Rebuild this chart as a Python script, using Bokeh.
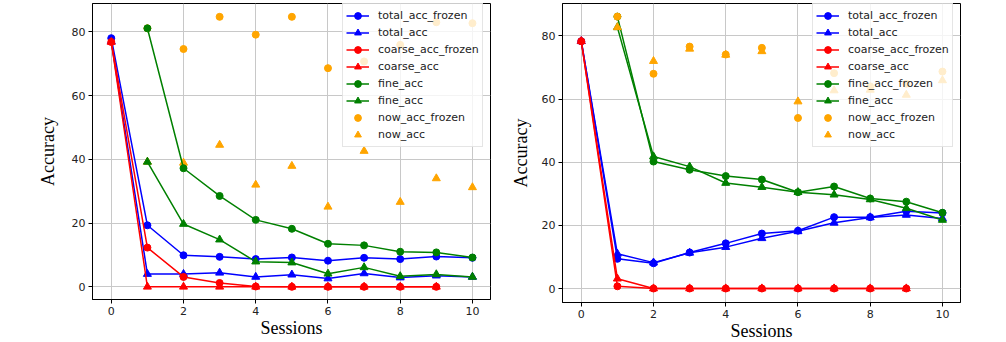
from bokeh.plotting import figure
from bokeh.models import Range1d, Legend, LegendItem, FixedTicker
from bokeh.layouts import row
from bokeh.embed import file_html
from bokeh.resources import INLINE

sessions = list(range(11))
s0_9 = list(range(10))
s1_10 = list(range(1, 11))

# ---- left chart ----
L_total_acc_frozen = [78.0, 19.3, 9.9, 9.4, 8.7, 9.2, 8.2, 9.1, 8.7, 9.5, 9.1]
L_total_acc = [77.0, 4.0, 4.0, 4.4, 3.1, 3.8, 2.6, 4.2, 2.9, 3.5, 3.1]
L_coarse_acc_frozen = [76.8, 12.3, 3.1, 1.2, 0.1, 0.0, 0.0, 0.0, 0.0, 0.0]
L_coarse_acc = [76.8, 0.0, 0.0, 0.0, 0.0, 0.0, 0.0, 0.0, 0.0, 0.0]
L_fine_acc_frozen = [81.1, 37.2, 28.5, 21.0, 18.2, 13.5, 13.0, 11.0, 10.8, 9.2]
L_fine_acc = [39.2, 19.7, 14.8, 7.9, 7.6, 4.1, 6.1, 3.3, 3.9, 3.1]
L_now_acc_frozen = [81.1, 74.6, 84.7, 79.1, 84.7, 68.6, 70.7, 75.9, 83.0, 82.7]
L_now_acc = [39.2, 38.9, 44.5, 32.0, 37.9, 25.1, 42.6, 26.6, 34.0, 31.2]

# ---- right chart ----
R_total_acc_frozen = [78.3, 9.4, 8.0, 11.4, 14.3, 17.4, 18.3, 22.6, 22.6, 24.5, 23.9]
R_total_acc = [78.3, 11.0, 8.2, 11.3, 13.1, 15.9, 18.1, 20.8, 22.5, 23.3, 22.2]
R_coarse_acc_frozen = [78.3, 0.7, 0.0, 0.0, 0.0, 0.0, 0.0, 0.0, 0.0, 0.0]
R_coarse_acc = [78.3, 3.1, 0.0, 0.0, 0.0, 0.0, 0.0, 0.0, 0.0, 0.0]
R_fine_acc_frozen = [86.1, 40.2, 37.6, 35.6, 34.5, 30.5, 32.3, 28.5, 27.5, 24.0]
R_fine_acc = [82.7, 41.8, 38.6, 33.4, 32.1, 30.5, 29.7, 28.2, 25.4, 21.7]
R_now_acc_frozen = [86.1, 68.0, 76.6, 74.1, 76.2, 54.0, 68.2, 64.0, 64.8, 68.7]
R_now_acc = [82.7, 72.0, 75.9, 74.0, 75.1, 59.2, 62.7, 62.9, 61.3, 65.9]

x_ticks = [0, 2, 4, 6, 8, 10]
y_ticks = [0, 20, 40, 60, 80]

BLUE, RED, GREEN, ORANGE = "#0000ff", "#ff0000", "#008000", "#ffa500"


def make_fig(yr, border_left, border_right, border_bottom, frame_h, label_standoff):
    p = figure(output_backend="svg", toolbar_location=None,
               frame_width=398, frame_height=frame_h,
               min_border_left=border_left, min_border_right=border_right,
               min_border_top=3, min_border_bottom=border_bottom,
               x_range=Range1d(-0.52, 10.5), y_range=Range1d(*yr))
    p.outline_line_color = "black"
    p.outline_line_width = 1
    p.xaxis.ticker = FixedTicker(ticks=x_ticks)
    p.yaxis.ticker = FixedTicker(ticks=y_ticks)
    for ax in (p.xaxis[0], p.yaxis[0]):
        ax.axis_line_color = "black"
        ax.major_tick_line_color = "black"
        ax.major_tick_out = 4
        ax.major_tick_in = 0
        ax.minor_tick_line_color = None
        ax.major_label_text_font = "DejaVu Sans"
        ax.major_label_text_font_size = "11px"
        ax.major_label_text_color = "#222222"
        ax.major_label_standoff = 3
        ax.axis_label_text_font = "Liberation Serif"
        ax.axis_label_text_font_size = "18px"
        ax.axis_label_text_font_style = "normal"
        ax.axis_label_text_color = "black"
    p.xaxis.axis_label = "Sessions"
    p.yaxis.axis_label = "Accuracy"
    p.xaxis.axis_label_standoff = 0
    p.yaxis.axis_label_standoff = label_standoff
    p.grid.grid_line_color = "#c8c8c8"
    p.grid.grid_line_width = 1
    return p


def series(p, x, y, color, marker, size):
    l = p.line(x, y, line_color=color, line_width=1.5)
    s = p.scatter(x, y, marker=marker, size=size, fill_color=color, line_color=color)
    return [l, s]


def add_legend(p, items, loc):
    lg = Legend(items=items, location=loc)
    lg.label_text_font = "DejaVu Sans"
    lg.label_text_font_size = "11px"
    lg.label_text_color = "#222222"
    lg.glyph_width = 23
    lg.glyph_height = 17
    lg.label_height = 17
    lg.label_standoff = 9
    lg.spacing = 0
    lg.padding = 3
    lg.margin = 0
    lg.border_line_color = "#cccccc"
    lg.background_fill_alpha = 0.8
    p.add_layout(lg)


# Left figure
p1 = make_fig((-3.98, 88.88), 92, 4, 35, 296, 11)
o1c = p1.scatter(s1_10, L_now_acc_frozen, marker="circle", size=7, color=ORANGE)
o1t = p1.scatter(s1_10, L_now_acc, marker="triangle", size=8, color=ORANGE)
r_tf = series(p1, sessions, L_total_acc_frozen, BLUE, "circle", 7)
r_t = series(p1, sessions, L_total_acc, BLUE, "triangle", 8)
r_cf = series(p1, s0_9, L_coarse_acc_frozen, RED, "circle", 7)
r_c = series(p1, s0_9, L_coarse_acc, RED, "triangle", 8)
r_ff = series(p1, s1_10, L_fine_acc_frozen, GREEN, "circle", 7)
r_f = series(p1, s1_10, L_fine_acc, GREEN, "triangle", 8)
add_legend(p1, [
    LegendItem(label="total_acc_frozen", renderers=r_tf),
    LegendItem(label="total_acc", renderers=r_t),
    LegendItem(label="coarse_acc_frozen", renderers=r_cf),
    LegendItem(label="coarse_acc", renderers=r_c),
    LegendItem(label="fine_acc", renderers=r_ff),
    LegendItem(label="fine_acc", renderers=r_f),
    LegendItem(label="now_acc_frozen", renderers=[o1c]),
    LegendItem(label="now_acc", renderers=[o1t]),
], (250, 152))

# Right figure
p2 = make_fig((-4.43, 90.25), 68, 10, 32, 299, 8)
q_tf = series(p2, sessions, R_total_acc_frozen, BLUE, "circle", 7)
q_t = series(p2, sessions, R_total_acc, BLUE, "triangle", 8)
q_cf = series(p2, s0_9, R_coarse_acc_frozen, RED, "circle", 7)
q_c = series(p2, s0_9, R_coarse_acc, RED, "triangle", 8)
q_ff = series(p2, s1_10, R_fine_acc_frozen, GREEN, "circle", 7)
q_f = series(p2, s1_10, R_fine_acc, GREEN, "triangle", 8)
o2t = p2.scatter(s1_10, R_now_acc, marker="triangle", size=8, color=ORANGE)
o2c = p2.scatter(s1_10, R_now_acc_frozen, marker="circle", size=7, color=ORANGE)
add_legend(p2, [
    LegendItem(label="total_acc_frozen", renderers=q_tf),
    LegendItem(label="total_acc", renderers=q_t),
    LegendItem(label="coarse_acc_frozen", renderers=q_cf),
    LegendItem(label="coarse_acc", renderers=q_c),
    LegendItem(label="fine_acc_frozen", renderers=q_ff),
    LegendItem(label="fine_acc", renderers=q_f),
    LegendItem(label="now_acc_frozen", renderers=[o2c]),
    LegendItem(label="now_acc", renderers=[o2t]),
], (250, 155))

layout = row(p1, p2)
open("out.html", "w").write(file_html(layout, INLINE))
